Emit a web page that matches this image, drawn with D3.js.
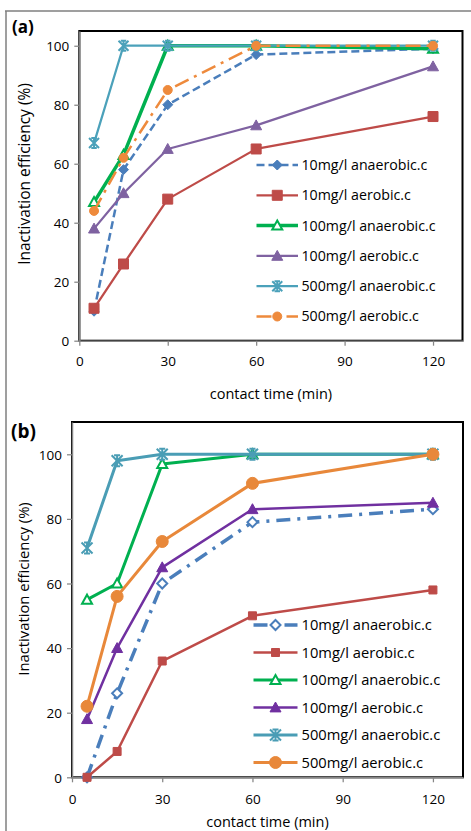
<!DOCTYPE html>
<html>
<head>
<meta charset="utf-8">
<script src="https://cdn.jsdelivr.net/npm/d3@7"></script>
<style>
  html, body { margin: 0; padding: 0; background: #fff; }
  svg { display: block; }
  text { font-family: "Open Sans", "Liberation Sans", sans-serif; fill: #000; }
</style>
</head>
<body>
<svg id="chart" width="471" height="831"></svg>
<script>
// Contact times (min) shared by every series
const contactTimes = [5, 15, 30, 60, 120];
const xTicks = [0, 30, 60, 90, 120];
const yTicks = [0, 20, 40, 60, 80, 100];
const seriesLabels = [
  "10mg/l anaerobic.c", "10mg/l aerobic.c",
  "100mg/l anaerobic.c", "100mg/l aerobic.c",
  "500mg/l anaerobic.c", "500mg/l aerobic.c"
];

// Panel (a): inactivation efficiency (%)
const a10Anaerobic  = [10, 58, 80, 97, 99];
const a10Aerobic    = [11, 26, 48, 65, 76];
const a100Anaerobic = [47, 63, 100, 100, 99];
const a100Aerobic   = [38, 50, 65, 73, 93];
const a500Anaerobic = [67, 100, 100, 100, 100];
const a500Aerobic   = [44, 62, 85, 100, 100];

// Panel (b): inactivation efficiency (%)
const b10Anaerobic  = [0, 26, 60, 79, 83];
const b10Aerobic    = [0, 8, 36, 50, 58];
const b100Anaerobic = [55, 60, 97, 100, 100];
const b100Aerobic   = [18, 40, 65, 83, 85];
const b500Anaerobic = [71, 98, 100, 100, 100];
const b500Aerobic   = [22, 56, 73, 91, 100];

// Line / marker styling per series
const stylesA = [
  { color: "#4A7EBB", width: 2.5, dash: "8,4", marker: "diamond", size: 10, fill: "#4A7EBB" },
  { color: "#BE4B48", width: 2.25, dash: null, marker: "square", size: 10, fill: "#BE4B48" },
  { color: "#00B050", width: 3.5, dash: null, marker: "triangle", size: 10, fill: "#fff" },
  { color: "#7F62A1", width: 2.25, dash: null, marker: "triangle", size: 11, fill: "#7F62A1" },
  { color: "#4BA1BA", width: 2.25, dash: null, marker: "star", size: 10, fill: "none" },
  { color: "#EE8A3C", width: 2.5, dash: "15,6,3,6", marker: "circle", size: 9, fill: "#EE8A3C" }
];
const stylesB = [
  { color: "#4A7EBB", width: 3.5, dash: "14,7,3,7", marker: "diamond", size: 10, fill: "#fff" },
  { color: "#BE4B48", width: 2.5, dash: null, marker: "square", size: 8, fill: "#BE4B48" },
  { color: "#00B050", width: 3, dash: null, marker: "triangle", size: 10, fill: "#fff" },
  { color: "#7030A0", width: 2.5, dash: null, marker: "triangle", size: 11, fill: "#7030A0" },
  { color: "#4A9DB5", width: 3, dash: null, marker: "star", size: 11, fill: "none" },
  { color: "#E8883A", width: 3, dash: null, marker: "circle", size: 12, fill: "#E8883A" }
];

const panels = [
  {
    tag: "(a)", tagSize: 17, tagX: 12, tagY: 33,
    box: { left: 79.3, right: 462.5, top: 31, bottom: 340.7 },
    yMax: 105, series: [a10Anaerobic, a10Aerobic, a100Anaerobic, a100Aerobic, a500Anaerobic, a500Aerobic],
    styles: stylesA,
    legend: { x1: 256.5, x2: 298, textX: 301.5, y0: 165, step: 30.3, font: 14.2 },
    yTitleX: 29.5, yTitleY: 174, yTitleFont: 15.5, xTitleY: 399, xLabelY: 366
  },
  {
    tag: "(b)", tagSize: 19, tagX: 11, tagY: 438,
    box: { left: 72, right: 463, top: 422, bottom: 777.3 },
    yMax: 110, series: [b10Anaerobic, b10Aerobic, b100Anaerobic, b100Aerobic, b500Anaerobic, b500Aerobic],
    styles: stylesB,
    legend: { x1: 253.5, x2: 297.5, textX: 301.5, y0: 625, step: 27.5, font: 14.7 },
    yTitleX: 28.5, yTitleY: 589, yTitleFont: 14.8, xTitleY: 826.5, xLabelY: 804
  }
];

const svg = d3.select("#chart");

// Outer frame (top and left edges)
svg.append("line").attr("x1", 5).attr("x2", 471).attr("y1", 11).attr("y2", 11)
  .attr("stroke", "#7f7f7f").attr("stroke-width", 1.5);
svg.append("line").attr("x1", 6).attr("x2", 6).attr("y1", 11).attr("y2", 831)
  .attr("stroke", "#7f7f7f").attr("stroke-width", 1.5);

function markerPath(type, s) {
  const h = s / 2;
  switch (type) {
    case "diamond": return `M0,${-h}L${h},0L0,${h}L${-h},0Z`;
    case "square": return `M${-h},${-h}H${h}V${h}H${-h}Z`;
    case "triangle": return `M0,${-h}L${h},${h * 0.8}L${-h},${h * 0.8}Z`;
    case "circle": return d3.symbol(d3.symbolCircle, Math.PI * h * h)();
    case "star": return `M${-h},${-h}L${h},${h}M${h},${-h}L${-h},${h}M0,${-h}V${h}M${-h * 0.55},${-h}H${h * 0.55}M${-h * 0.55},${h}H${h * 0.55}`;
  }
}

function drawMarker(g, st, x, y) {
  const p = g.append("path")
    .attr("transform", `translate(${x},${y})`)
    .attr("d", markerPath(st.marker, st.size));
  if (st.marker === "star") {
    p.attr("fill", "none").attr("stroke", st.color).attr("stroke-width", 2);
  } else if (st.fill === "#fff") {
    p.attr("fill", "#fff").attr("stroke", st.color).attr("stroke-width", 2);
  } else {
    p.attr("fill", st.fill).attr("stroke", st.color).attr("stroke-width", 1);
  }
}

panels.forEach(P => {
  const b = P.box;
  const x = d3.scaleLinear().domain([0, 130]).range([b.left, b.right]);
  const y = d3.scaleLinear().domain([0, P.yMax]).range([b.bottom, b.top]);
  const g = svg.append("g");

  // plot area border
  g.append("rect").attr("x", b.left).attr("y", b.top)
    .attr("width", b.right - b.left).attr("height", b.bottom - b.top)
    .attr("fill", "#fff").attr("stroke", "#000").attr("stroke-width", 2);

  // axes
  const xAxis = g.append("g").attr("transform", `translate(0,${b.bottom})`)
    .call(d3.axisBottom(x).tickValues(xTicks).tickSize(5).tickSizeOuter(0).tickFormat(d3.format("d")));
  const yAxis = g.append("g").attr("transform", `translate(${b.left},0)`)
    .call(d3.axisLeft(y).tickValues(yTicks).tickSize(5).tickSizeOuter(0).tickFormat(d3.format("d")));
  [xAxis, yAxis].forEach(ax => {
    ax.select(".domain").attr("stroke", "#868686").attr("stroke-width", 1.5);
    ax.selectAll(".tick line").attr("stroke", "#868686").attr("stroke-width", 1.25);
    ax.selectAll(".tick text").attr("font-size", 13.5)
      .attr("font-family", '"Open Sans", sans-serif').attr("fill", "#000");
  });
  xAxis.selectAll(".tick text").attr("y", null).attr("dy", null)
    .attr("transform", null).attr("y", P.xLabelY - b.bottom);
  yAxis.selectAll(".tick text").attr("x", -10).attr("dy", "0.35em");

  // axis titles
  g.append("text").attr("x", (b.left + b.right) / 2).attr("y", P.xTitleY)
    .attr("text-anchor", "middle").attr("font-size", 14.5).text("contact time (min)");
  g.append("text")
    .attr("transform", `translate(${P.yTitleX},${P.yTitleY}) rotate(-90)`)
    .attr("text-anchor", "middle").attr("font-size", P.yTitleFont).text("Inactivation efficiency (%)");

  // panel tag
  g.append("text").attr("x", P.tagX).attr("y", P.tagY)
    .attr("font-size", P.tagSize).attr("font-weight", "bold").text(P.tag);

  // series lines
  const line = d3.line().x((d, i) => x(contactTimes[i])).y(d => y(d));
  P.series.forEach((vals, si) => {
    const st = P.styles[si];
    g.append("path").datum(vals).attr("d", line)
      .attr("fill", "none").attr("stroke", st.color)
      .attr("stroke-width", st.width)
      .attr("stroke-dasharray", st.dash)
      .attr("stroke-linejoin", "round");
    vals.forEach((v, i) => drawMarker(g, st, x(contactTimes[i]), y(v)));
  });

  // legend
  const L = P.legend;
  seriesLabels.forEach((name, si) => {
    const st = P.styles[si];
    const ly = L.y0 + si * L.step;
    g.append("line").attr("x1", L.x1).attr("x2", L.x2).attr("y1", ly).attr("y2", ly)
      .attr("stroke", st.color).attr("stroke-width", st.width)
      .attr("stroke-dasharray", st.dash);
    drawMarker(g, st, (L.x1 + L.x2) / 2, ly);
    g.append("text").attr("x", L.textX).attr("y", ly).attr("dy", "0.35em")
      .attr("font-size", L.font).text(name);
  });
});
</script>
</body>
</html>
